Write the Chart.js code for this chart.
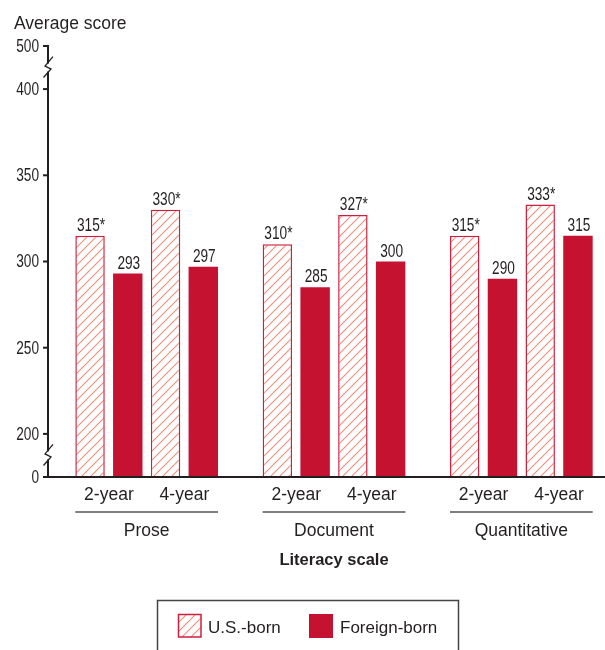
<!DOCTYPE html>
<html>
<head>
<meta charset="utf-8">
<script src="https://cdn.jsdelivr.net/npm/chart.js@4.4.0/dist/chart.umd.min.js"></script>
<style>
	html, body { margin: 0; padding: 0; overflow: hidden; background: #fff; }
	#wrap { width: 620px; height: 650px; }
</style>
</head>
<body>
<div id="wrap"><canvas id="myChart"></canvas></div>
<script>
const literacyScales = ['Prose', 'Document', 'Quantitative'];
const programs = ['2-year', '4-year'];
const usBorn2Year = [315, 310, 315];
const foreignBorn2Year = [293, 285, 290];
const usBorn4Year = [330, 327, 333];
const foreignBorn4Year = [297, 300, 315];
const usBornStarred = [true, true, true];
const foreignBornStarred = [false, false, false];
const yTicks = [0, 200, 250, 300, 350, 400, 500];

// broken axis: 0-200 and 400-500 are squeezed
const squash = v => v < 200 ? 175 + v / 8 : (v > 400 ? 400 + (v - 400) / 4 : v);

const INK = '#231f20';
const RED = '#c41230';
const TXT = '"Liberation Sans", Arial, sans-serif';
const NUM_FONT = '18px ' + TXT;
const axisX = 48;

const canvas = document.getElementById('myChart');
const ctx0 = canvas.getContext('2d');

const hatch = (() => {
	const c = document.createElement('canvas');
	c.width = 9; c.height = 9;
	const g = c.getContext('2d');
	g.fillStyle = '#fff';
	g.fillRect(0, 0, 9, 9);
	g.strokeStyle = '#ef8e7c';
	g.lineWidth = 1.1;
	g.beginPath();
	g.moveTo(0, 9); g.lineTo(9, 0);
	g.moveTo(-1, 1); g.lineTo(1, -1);
	g.moveTo(8, 10); g.lineTo(10, 8);
	g.stroke();
	return ctx0.createPattern(c, 'repeat');
})();

const usStyle = { backgroundColor: hatch, borderColor: '#cf1f3d', borderWidth: 1.5 };
const fbStyle = { backgroundColor: RED, borderColor: RED, borderWidth: 0 };

const makeSet = (label, values, starred, style) => Object.assign({
	label: label,
	data: values.map(squash),
	values: values,
	starred: starred,
	borderSkipped: false,
	categoryPercentage: 0.806,
	barPercentage: 0.78
}, style);

const data = {
	labels: literacyScales,
	datasets: [
		makeSet('U.S.-born', usBorn2Year, usBornStarred, usStyle),
		makeSet('Foreign-born', foreignBorn2Year, foreignBornStarred, fbStyle),
		makeSet('U.S.-born', usBorn4Year, usBornStarred, usStyle),
		makeSet('Foreign-born', foreignBorn4Year, foreignBornStarred, fbStyle)
	]
};

// numbers in the original are set in a condensed face
const narrowText = (ctx, text, x, y, align) => {
	ctx.save();
	ctx.translate(x, y);
	ctx.scale(0.76, 1);
	ctx.textAlign = align;
	ctx.fillText(text, 0, 0);
	ctx.restore();
};

const overlay = {
	id: 'overlay',
	afterDraw(chart) {
		const { ctx, scales: { x, y } } = chart;
		const py = v => y.getPixelForValue(squash(v));
		ctx.save();

		// axes
		ctx.strokeStyle = INK;
		ctx.lineWidth = 2;
		ctx.beginPath();
		ctx.moveTo(axisX, py(500) - 1);
		ctx.lineTo(axisX, py(0));
		ctx.moveTo(axisX - 1, py(0));
		ctx.lineTo(605, py(0));
		ctx.stroke();

		ctx.font = NUM_FONT;
		ctx.fillStyle = INK;
		ctx.textBaseline = 'middle';
		yTicks.forEach(t => {
			ctx.beginPath();
			ctx.moveTo(axisX - 5, py(t));
			ctx.lineTo(axisX, py(t));
			ctx.stroke();
			narrowText(ctx, String(t), axisX - 9, py(t) + 1, 'right');
		});

		// break marks
		[[400, 500], [0, 200]].forEach(([a, b]) => {
			const cy = (py(a) + py(b)) / 2;
			ctx.fillStyle = '#fff';
			ctx.fillRect(axisX - 2, cy - 4, 4, 8);
			ctx.strokeStyle = INK;
			ctx.lineWidth = 1.3;
			ctx.beginPath();
			ctx.moveTo(axisX - 4.5, cy + 10);
			ctx.lineTo(axisX + 3, cy + 1.5);
			ctx.lineTo(axisX - 3, cy - 1.5);
			ctx.lineTo(axisX + 5, cy - 11);
			ctx.stroke();
		});

		// value labels
		ctx.fillStyle = INK;
		ctx.font = NUM_FONT;
		ctx.textBaseline = 'alphabetic';
		chart.data.datasets.forEach((ds, i) => {
			chart.getDatasetMeta(i).data.forEach((bar, j) => {
				narrowText(ctx, ds.values[j] + (ds.starred[j] ? '*' : ''), bar.x + 1, bar.y - 5, 'center');
			});
		});

		// category labels
		ctx.textAlign = 'center';
		const metas = [0, 1, 2, 3].map(i => chart.getDatasetMeta(i).data);
		literacyScales.forEach((name, j) => {
			ctx.font = '17.5px ' + TXT;
			programs.forEach((p, k) => {
				const cx = (metas[2 * k][j].x + metas[2 * k + 1][j].x) / 2;
				ctx.fillText(p, cx, 500);
			});
			const l = metas[0][j].x - metas[0][j].width / 2;
			const r = metas[3][j].x + metas[3][j].width / 2;
			ctx.strokeStyle = '#555';
			ctx.lineWidth = 1.5;
			ctx.beginPath();
			ctx.moveTo(l, 512);
			ctx.lineTo(r, 512);
			ctx.stroke();
			ctx.fillText(name, x.getPixelForValue(j), 536);
		});
		ctx.font = 'bold 16.5px ' + TXT;
		ctx.fillText('Literacy scale', x.getPixelForValue(1), 565);

		// y title
		ctx.font = '17.5px ' + TXT;
		ctx.textAlign = 'left';
		ctx.fillText('Average score', 14, 29);

		// legend
		ctx.strokeStyle = '#444';
		ctx.lineWidth = 1.5;
		ctx.strokeRect(157.5, 600.5, 301, 70);
		ctx.fillStyle = hatch;
		ctx.fillRect(178, 614, 23, 23);
		ctx.strokeStyle = '#cf1f3d';
		ctx.lineWidth = 1.5;
		ctx.strokeRect(178.5, 614.5, 22.5, 22.5);
		ctx.fillStyle = RED;
		ctx.fillRect(309, 614, 24, 24);
		ctx.fillStyle = INK;
		ctx.font = '17px ' + TXT;
		ctx.fillText('U.S.-born', 208, 633);
		ctx.fillText('Foreign-born', 340, 633);

		ctx.restore();
	}
};

const config = {
	type: 'bar',
	data: data,
	options: {
		responsive: true,
		maintainAspectRatio: false,
		animation: false,
		layout: { padding: { left: 53, right: 5, top: 46, bottom: 173 } },
		plugins: {
			legend: { display: false },
			tooltip: { enabled: false }
		},
		scales: {
			x: { display: false },
			y: { display: false, min: 175, max: 425 }
		}
	},
	plugins: [overlay]
};

const myChart = new Chart(canvas, config);
</script>
</body>
</html>
